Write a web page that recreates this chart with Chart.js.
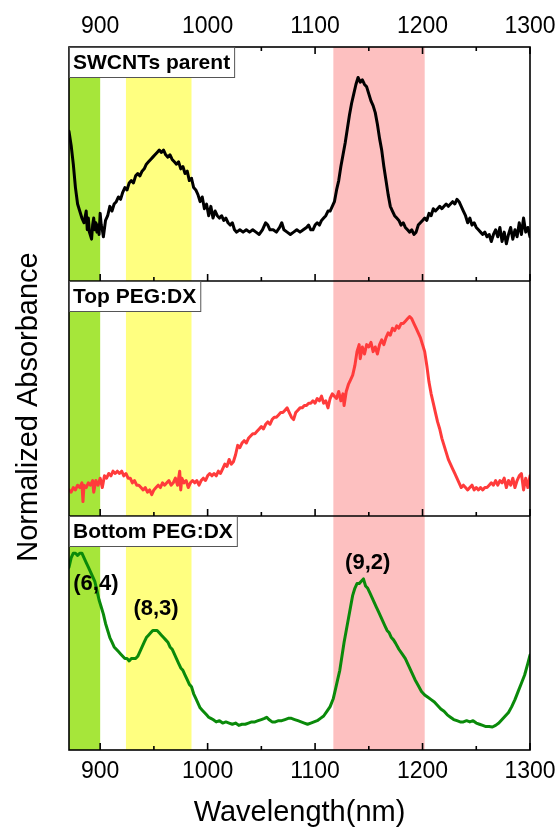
<!DOCTYPE html>
<html><head><meta charset="utf-8">
<script src="https://cdn.jsdelivr.net/npm/chart.js@4.4.1/dist/chart.umd.min.js"></script>
<style>html,body{margin:0;padding:0;background:#fff}</style>
</head><body>
<canvas id="c" width="560" height="828"></canvas>
<script>
// ---- data (normalized absorbance, 0..1 within each panel) ----
const parentWl = [
871,873,875,877,879,881,883,885,887,888,
889,890,892,893,894,895,896,897,898,899,
900,901,902,903,905,907,909,911,913,915,
917,919,921,923,925,927,929,931,933,935,
937,939,941,943,945,947,949,951,953,955,
957,959,961,963,965,967,969,971,973,975,
977,979,981,983,985,987,989,991,993,995,
997,999,1001,1003,1005,1007,1009,1011,1013,1015,
1017,1019,1021,1023,1025,1027,1030,1033,1036,1039,
1042,1045,1048,1051,1054,1056,1058,1061,1064,1067,
1069,1071,1074,1077,1080,1083,1086,1089,1092,1094,
1096,1098,1100,1102,1104,1106,1108,1110,1112,1114,
1116,1118,1120,1122,1124,1126,1128,1130,1132,1134,
1136,1138,1140,1142,1144,1146,1148,1150,1152,1154,
1156,1158,1160,1162,1164,1166,1168,1170,1172,1174,
1176,1178,1180,1182,1184,1186,1188,1190,1192,1194,
1196,1198,1200,1202,1204,1206,1208,1210,1212,1214,
1216,1218,1220,1222,1224,1226,1228,1230,1232,1234,
1236,1238,1240,1242,1244,1246,1248,1250,1252,1254,
1256,1258,1260,1262,1264,1266,1268,1270,1272,1274,
1276,1278,1280,1282,1284,1286,1288,1290,1292,1294,
1296,1298,1300];
const parentAbs = [
0.64,0.58,0.50,0.40,0.33,0.30,0.27,0.25,0.30,0.22,
0.27,0.21,0.18,0.24,0.27,0.22,0.25,0.21,0.24,0.20,
0.29,0.24,0.22,0.19,0.26,0.28,0.32,0.30,0.33,0.34,
0.36,0.35,0.38,0.40,0.39,0.42,0.43,0.42,0.45,0.46,
0.45,0.47,0.48,0.50,0.51,0.52,0.53,0.54,0.55,0.56,
0.55,0.56,0.54,0.53,0.54,0.52,0.51,0.50,0.51,0.48,
0.49,0.46,0.47,0.43,0.44,0.40,0.39,0.37,0.34,0.36,
0.31,0.33,0.28,0.32,0.27,0.30,0.28,0.27,0.28,0.26,
0.27,0.25,0.24,0.25,0.22,0.21,0.22,0.21,0.22,0.21,
0.22,0.21,0.20,0.22,0.25,0.24,0.22,0.22,0.21,0.23,
0.25,0.22,0.21,0.20,0.21,0.22,0.21,0.22,0.23,0.24,
0.22,0.22,0.24,0.25,0.24,0.26,0.27,0.28,0.30,0.30,
0.32,0.34,0.39,0.43,0.49,0.54,0.59,0.65,0.71,0.76,
0.80,0.84,0.87,0.85,0.86,0.84,0.83,0.80,0.77,0.75,
0.72,0.67,0.61,0.56,0.49,0.43,0.37,0.32,0.30,0.28,
0.27,0.26,0.24,0.25,0.23,0.22,0.21,0.22,0.20,0.21,
0.24,0.25,0.26,0.27,0.26,0.29,0.28,0.31,0.30,0.31,
0.32,0.31,0.32,0.33,0.32,0.33,0.34,0.33,0.35,0.34,
0.32,0.30,0.28,0.25,0.27,0.24,0.25,0.23,0.22,0.21,
0.20,0.21,0.19,0.20,0.17,0.20,0.22,0.19,0.23,0.17,
0.21,0.16,0.20,0.23,0.18,0.22,0.19,0.25,0.20,0.27,
0.21,0.23,0.19];

const topWl = [
871,873,875,877,879,881,883,884,885,887,
889,891,893,894,896,898,900,902,904,906,
908,910,912,914,916,918,920,922,924,926,
928,930,932,934,936,938,940,942,944,946,
948,950,952,954,956,958,960,962,964,966,
968,970,972,974,975,976,978,980,982,984,
986,988,990,992,994,996,998,1000,1002,1004,
1006,1008,1010,1012,1014,1016,1018,1020,1022,1024,
1026,1028,1030,1032,1034,1036,1038,1040,1042,1044,
1046,1048,1050,1052,1054,1056,1058,1060,1062,1064,
1066,1068,1070,1072,1074,1076,1078,1080,1082,1084,
1086,1088,1090,1092,1094,1096,1098,1100,1102,1104,
1106,1108,1110,1112,1114,1116,1118,1120,1122,1124,
1126,1127,1129,1131,1133,1135,1137,1139,1141,1142,
1144,1146,1148,1150,1152,1154,1156,1158,1160,1162,
1164,1166,1168,1170,1172,1174,1176,1178,1180,1182,
1184,1186,1188,1190,1192,1194,1196,1198,1200,1202,
1204,1206,1208,1210,1212,1214,1216,1218,1220,1222,
1224,1226,1228,1230,1232,1234,1236,1238,1240,1242,
1244,1246,1248,1250,1252,1254,1256,1258,1260,1262,
1264,1266,1268,1270,1272,1274,1276,1278,1280,1282,
1284,1286,1288,1290,1292,1294,1296,1298,1300];
const topAbs = [
0.11,0.10,0.12,0.11,0.13,0.12,0.14,0.06,0.13,0.12,
0.14,0.13,0.15,0.10,0.15,0.13,0.16,0.12,0.17,0.16,
0.18,0.17,0.19,0.18,0.19,0.18,0.19,0.17,0.18,0.16,
0.16,0.14,0.15,0.13,0.13,0.12,0.11,0.12,0.10,0.11,
0.09,0.11,0.12,0.13,0.12,0.14,0.13,0.14,0.15,0.13,
0.14,0.16,0.13,0.19,0.11,0.16,0.14,0.15,0.12,0.14,
0.15,0.14,0.15,0.13,0.15,0.16,0.15,0.17,0.18,0.17,
0.18,0.17,0.19,0.18,0.20,0.22,0.21,0.24,0.22,0.23,
0.26,0.30,0.29,0.31,0.32,0.31,0.33,0.34,0.35,0.35,
0.36,0.37,0.38,0.37,0.39,0.40,0.39,0.41,0.42,0.42,
0.43,0.44,0.44,0.45,0.46,0.44,0.42,0.41,0.44,0.45,
0.46,0.46,0.47,0.47,0.48,0.48,0.49,0.48,0.50,0.49,
0.51,0.48,0.49,0.46,0.50,0.52,0.51,0.50,0.53,0.49,
0.52,0.47,0.53,0.56,0.58,0.60,0.64,0.70,0.73,0.67,
0.72,0.69,0.73,0.72,0.74,0.70,0.72,0.69,0.73,0.75,
0.73,0.76,0.78,0.77,0.80,0.79,0.81,0.80,0.82,0.82,
0.83,0.84,0.85,0.84,0.82,0.80,0.78,0.76,0.73,0.70,
0.64,0.57,0.52,0.48,0.44,0.40,0.37,0.33,0.30,0.27,
0.24,0.22,0.20,0.18,0.16,0.14,0.12,0.13,0.12,0.11,
0.12,0.13,0.11,0.12,0.11,0.12,0.11,0.12,0.12,0.13,
0.14,0.13,0.15,0.13,0.15,0.14,0.16,0.12,0.15,0.13,
0.16,0.12,0.15,0.17,0.18,0.11,0.16,0.12,0.17];

const bottomWl = [
871,873,875,877,879,881,883,885,887,889,
891,893,895,897,899,901,903,905,907,909,
911,913,915,917,919,921,923,925,927,929,
931,933,935,937,939,941,943,945,947,949,
951,953,955,957,959,961,963,965,967,969,
971,973,975,977,979,981,983,985,987,989,
991,993,995,997,999,1001,1003,1005,1008,1011,
1014,1017,1020,1023,1026,1029,1032,1035,1038,1041,
1044,1047,1050,1053,1055,1057,1060,1063,1066,1069,
1072,1075,1078,1081,1084,1087,1090,1093,1096,1099,
1102,1105,1108,1111,1114,1117,1119,1121,1123,1125,
1127,1129,1131,1133,1135,1137,1139,1141,1143,1145,
1147,1149,1151,1153,1155,1157,1159,1161,1163,1165,
1167,1169,1171,1173,1175,1178,1181,1184,1187,1190,
1193,1196,1199,1202,1205,1208,1211,1214,1217,1220,
1223,1226,1229,1232,1235,1238,1241,1244,1247,1250,
1253,1256,1259,1262,1265,1268,1271,1274,1277,1280,
1283,1286,1289,1292,1295,1298,1300];
const bottomAbs = [
0.78,0.82,0.84,0.84,0.83,0.84,0.84,0.82,0.80,0.78,
0.76,0.74,0.72,0.68,0.64,0.61,0.58,0.54,0.51,0.48,
0.46,0.44,0.43,0.42,0.41,0.40,0.39,0.39,0.38,0.39,
0.39,0.39,0.40,0.42,0.44,0.46,0.48,0.49,0.50,0.51,
0.51,0.51,0.50,0.49,0.48,0.47,0.46,0.44,0.43,0.41,
0.39,0.37,0.35,0.34,0.32,0.30,0.28,0.27,0.24,0.22,
0.20,0.18,0.17,0.16,0.15,0.14,0.135,0.13,0.12,0.125,
0.115,0.12,0.115,0.11,0.115,0.105,0.11,0.11,0.115,0.12,
0.12,0.125,0.13,0.135,0.14,0.13,0.12,0.12,0.125,0.125,
0.13,0.135,0.135,0.13,0.125,0.12,0.115,0.11,0.115,0.12,
0.125,0.135,0.145,0.165,0.185,0.22,0.26,0.30,0.34,0.40,
0.46,0.51,0.56,0.61,0.66,0.69,0.71,0.71,0.72,0.73,
0.70,0.69,0.67,0.65,0.63,0.61,0.59,0.57,0.55,0.53,
0.51,0.50,0.48,0.47,0.455,0.43,0.41,0.39,0.36,0.33,
0.30,0.275,0.25,0.235,0.225,0.215,0.205,0.19,0.175,0.165,
0.15,0.14,0.13,0.125,0.12,0.12,0.125,0.12,0.125,0.115,
0.11,0.105,0.10,0.10,0.098,0.105,0.115,0.13,0.145,0.16,
0.185,0.215,0.25,0.285,0.32,0.37,0.405];

const panelNames = ['SWCNTs parent', 'Top PEG:DX', 'Bottom PEG:DX'];
const bandStart = [871, 924, 1117];
const bandEnd = [900, 985, 1202];
const chiralLabels = ['(6,4)', '(8,3)', '(9,2)'];
const chiralWl = [896, 952, 1149];
const chiralAbs = [0.71, 0.60, 0.80];
const majorTicks = [900, 1000, 1100, 1200, 1300];
const minorTicks = [950, 1050, 1150, 1250];

// ---- drawing ----
const FONT = "'Liberation Sans', Arial, sans-serif";
const bandColors = ['#a6e63a', '#ffff80', '#fdc0c0'];
const lineColors = ['#000000', '#ff3b3b', '#0a8a0a'];
const panelBase = [2, 1, 0];

function series(wl, abs, base) { return wl.map((x, i) => ({x: x, y: abs[i] + base})); }

const bandsPlugin = {
  id: 'bands',
  beforeDatasetsDraw(chart) {
    const {ctx, chartArea: a, scales: {x}} = chart;
    ctx.save();
    for (let i = 0; i < bandStart.length; i++) {
      const x0 = Math.max(a.left, x.getPixelForValue(bandStart[i]));
      const x1 = x.getPixelForValue(bandEnd[i]);
      ctx.fillStyle = bandColors[i];
      ctx.fillRect(x0, a.top, x1 - x0, a.bottom - a.top);
    }
    ctx.restore();
  }
};

const framePlugin = {
  id: 'frame',
  afterDatasetsDraw(chart) {
    const {ctx, chartArea: a, scales: {x, y}} = chart;
    ctx.save();
    ctx.strokeStyle = '#000';
    ctx.lineWidth = 1.6;
    ctx.strokeRect(a.left, a.top, a.right - a.left, a.bottom - a.top);
    [1, 2].forEach(v => {
      const py = Math.round(y.getPixelForValue(v));
      ctx.beginPath(); ctx.moveTo(a.left, py); ctx.lineTo(a.right, py); ctx.stroke();
    });
    // inward ticks
    const drawTicks = (py, dir) => {
      majorTicks.forEach(t => { const px = x.getPixelForValue(t); ctx.beginPath(); ctx.moveTo(px, py); ctx.lineTo(px, py + dir * 7); ctx.stroke(); });
      minorTicks.forEach(t => { const px = x.getPixelForValue(t); ctx.beginPath(); ctx.moveTo(px, py); ctx.lineTo(px, py + dir * 4); ctx.stroke(); });
    };
    drawTicks(a.top, 1);
    [0, 1, 2].forEach(v => drawTicks(Math.round(y.getPixelForValue(v)), -1));
    // panel name boxes
    ctx.font = 'bold 21px ' + FONT;
    ctx.textBaseline = 'middle';
    ctx.textAlign = 'left';
    panelNames.forEach((name, i) => {
      const top = Math.round(y.getPixelForValue(panelBase[i] + 1));
      const w = ctx.measureText(name).width + 8;
      ctx.fillStyle = '#fff';
      ctx.fillRect(a.left, top, w, 30);
      ctx.strokeStyle = '#555';
      ctx.lineWidth = 1;
      ctx.strokeRect(a.left + 0.5, top + 0.5, w, 30);
      ctx.fillStyle = '#000';
      ctx.fillText(name, a.left + 4, top + 16);
    });
    // chirality labels
    ctx.font = 'bold 22px ' + FONT;
    ctx.textAlign = 'center';
    chiralLabels.forEach((t, i) => {
      ctx.fillText(t, x.getPixelForValue(chiralWl[i]), y.getPixelForValue(chiralAbs[i]));
    });
    // axis titles
    ctx.font = '29px ' + FONT;
    ctx.textBaseline = 'alphabetic';
    ctx.fillText('Wavelength(nm)', (a.left + a.right) / 2, 821);
    ctx.save();
    ctx.translate(37, 407);
    ctx.rotate(-Math.PI / 2);
    ctx.fillText('Normalized Absorbance', 0, 0);
    ctx.restore();
    ctx.restore();
  }
};

const tickCommon = {
  autoSkip: false, maxRotation: 0, minRotation: 0,
  color: '#000', font: {family: FONT, size: 23},
  callback: v => String(v)
};
const setMajors = s => { s.ticks = majorTicks.map(v => ({value: v})); };
const fixPad = h => s => { s.height = h; s.paddingLeft = 0; s.paddingRight = 0; };

new Chart(document.getElementById('c'), {
  type: 'line',
  data: {
    datasets: [
      {label: panelNames[0], data: series(parentWl, parentAbs, panelBase[0]), borderColor: lineColors[0]},
      {label: panelNames[1], data: series(topWl, topAbs, panelBase[1]), borderColor: lineColors[1]},
      {label: panelNames[2], data: series(bottomWl, bottomAbs, panelBase[2]), borderColor: lineColors[2]}
    ]
  },
  options: {
    responsive: false, animation: false, devicePixelRatio: 1,
    layout: {padding: {left: 0, right: 30, top: 0, bottom: 0}},
    plugins: {legend: {display: false}, tooltip: {enabled: false}},
    elements: {point: {radius: 0}, line: {borderWidth: 3, tension: 0, borderJoinStyle: 'round', borderCapStyle: 'round'}},
    scales: {
      x: {type: 'linear', position: 'bottom', min: 871, max: 1300,
        grid: {display: false, drawTicks: false}, border: {display: false},
        ticks: Object.assign({padding: 8}, tickCommon),
        afterBuildTicks: setMajors, afterFit: fixPad(78)},
      xTop: {type: 'linear', position: 'top', min: 871, max: 1300,
        grid: {display: false, drawTicks: false}, border: {display: false},
        ticks: Object.assign({padding: 7}, tickCommon),
        afterBuildTicks: setMajors, afterFit: fixPad(47)},
      y: {min: 0, max: 3, ticks: {display: false}, grid: {display: false, drawTicks: false},
        border: {display: false}, afterFit: s => { s.width = 69; s.paddingTop = 0; s.paddingBottom = 0; }}
    }
  },
  plugins: [bandsPlugin, framePlugin]
});
</script>
</body></html>
